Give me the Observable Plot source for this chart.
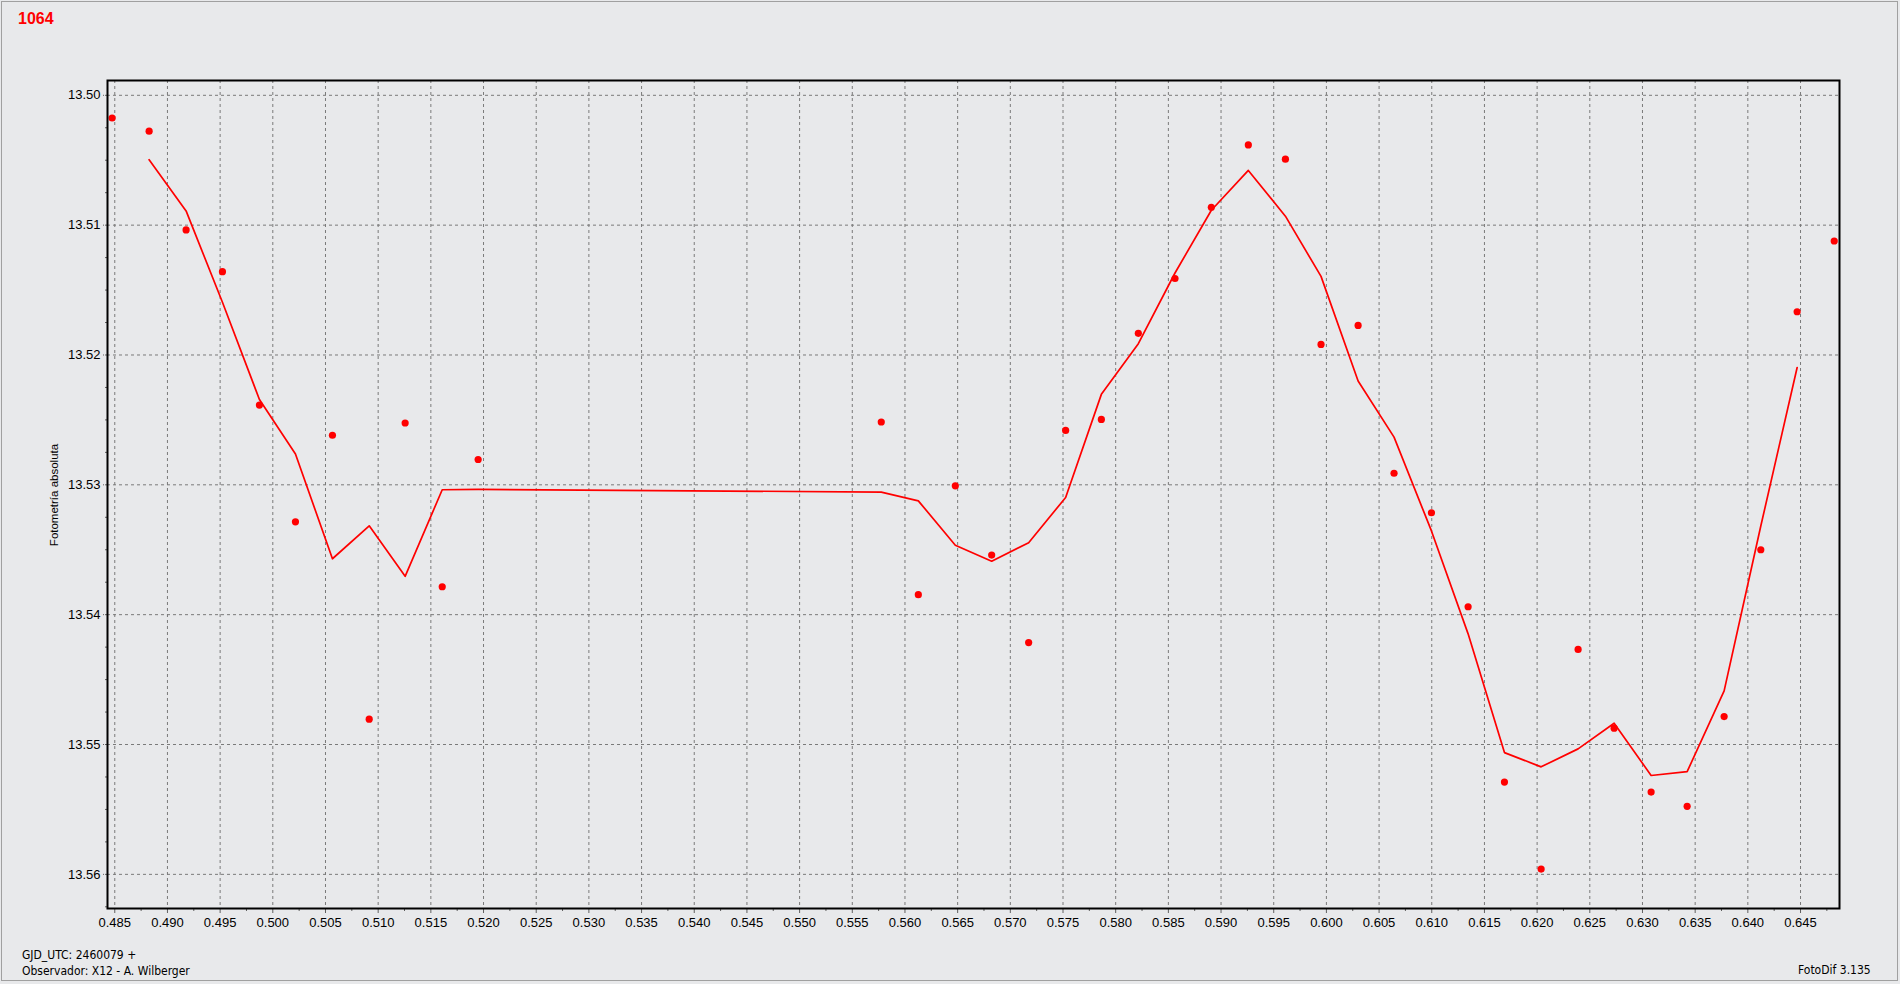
<!DOCTYPE html>
<html>
<head>
<meta charset="utf-8">
<script src="https://cdn.jsdelivr.net/npm/d3@7"></script>
<script src="https://cdn.jsdelivr.net/npm/@observablehq/plot@0.6"></script>
<style>
  html, body { margin: 0; padding: 0; background: #e8e9eb; }
  #page { position: relative; width: 1900px; height: 984px; background: #e8e9eb; overflow: hidden; }
  #border { position: absolute; left: 1px; top: 1px; width: 1895px; height: 978px; border: 1px solid #a0a0a0; box-sizing: content-box; pointer-events: none; }
  #chart { position: absolute; left: 0; top: 0; }
  .txt { position: absolute; white-space: nowrap; font-family: "Liberation Sans", Arial, sans-serif; color: #000; }
  #title { left: 18px; top: 10px; font-size: 16px; font-weight: bold; color: #ff0000; }
  #ylabel { left: 54px; top: 495px; font-size: 11.5px; transform: translate(-50%, -50%) rotate(-90deg); }
  #gjd { left: 22px; top: 948px; font-size: 12px; font-family: "DejaVu Sans Condensed", "Liberation Sans", sans-serif; }
  #obs { left: 22px; top: 964px; font-size: 12px; font-family: "DejaVu Sans Condensed", "Liberation Sans", sans-serif; }
  #foto { left: 1798px; top: 963px; font-size: 12px; font-family: "DejaVu Sans Condensed", "Liberation Sans", sans-serif; }
</style>
</head>
<body>
<div id="page">
  <div id="chart"></div>
  <div id="border"></div>
  <div class="txt" id="title">1064</div>
  <div class="txt" id="ylabel">Fotometría absoluta</div>
  <div class="txt" id="gjd">GJD_UTC: 2460079 +</div>
  <div class="txt" id="obs">Observador: X12 - A. Wilberger</div>
  <div class="txt" id="foto">FotoDif 3.135</div>
</div>
<script>
// Observation times (GJD_UTC - 2460079)
const jd = [
  0.48475, 0.48826, 0.49177, 0.49522, 0.49873, 0.50215, 0.50566, 0.50915, 0.51256, 0.51608, 0.51949,
  0.55775, 0.56127, 0.56478, 0.56823, 0.57174, 0.57525, 0.57864, 0.58215, 0.58563, 0.58908, 0.59259,
  0.59611, 0.59949, 0.60301, 0.60642, 0.60997, 0.61345, 0.61690, 0.62038, 0.62389, 0.62731, 0.63082,
  0.63424, 0.63775, 0.64123, 0.64468, 0.64820
];
// Absolute photometry (magnitude)
const mag = [
  13.50175, 13.50276, 13.51037, 13.51358, 13.52386, 13.53285, 13.52618, 13.54805, 13.52524, 13.53785, 13.52805,
  13.52516, 13.53846, 13.53008, 13.53541, 13.54215, 13.52581, 13.52496, 13.51833, 13.51411, 13.50862, 13.50382,
  13.50492, 13.51919, 13.51772, 13.52911, 13.53215, 13.53939, 13.55289, 13.55959, 13.54268, 13.54874, 13.55366,
  13.55476, 13.54785, 13.53500, 13.51667, 13.51122
];
// Axis ticks
const xTicks = [0.485, 0.490, 0.495, 0.500, 0.505, 0.510, 0.515, 0.520, 0.525, 0.530, 0.535, 0.540, 0.545,
  0.550, 0.555, 0.560, 0.565, 0.570, 0.575, 0.580, 0.585, 0.590, 0.595, 0.600, 0.605, 0.610, 0.615, 0.620,
  0.625, 0.630, 0.635, 0.640, 0.645];
const xMinorTicks = [0.4875, 0.4925, 0.4975, 0.5025, 0.5075, 0.5125, 0.5175, 0.5225, 0.5275, 0.5325, 0.5375,
  0.5425, 0.5475, 0.5525, 0.5575, 0.5625, 0.5675, 0.5725, 0.5775, 0.5825, 0.5875, 0.5925, 0.5975, 0.6025,
  0.6075, 0.6125, 0.6175, 0.6225, 0.6275, 0.6325, 0.6375, 0.6425, 0.6475];
const yTicks = [13.50, 13.51, 13.52, 13.53, 13.54, 13.55, 13.56];
const yMinorTicks = [13.5025, 13.505, 13.5075, 13.5125, 13.515, 13.5175, 13.5225, 13.525, 13.5275,
  13.5325, 13.535, 13.5375, 13.5425, 13.545, 13.5475, 13.5525, 13.555, 13.5575, 13.5625];

const data = jd.map((x, i) => ({x, y: mag[i]}));

const font = '"Liberation Sans", Arial, sans-serif';
const gridStyle = {stroke: "#7a7a7a", strokeOpacity: 1, strokeWidth: 1, strokeDasharray: "3,3"};

const chart = Plot.plot({
  width: 1900,
  height: 984,
  marginLeft: 107,
  marginRight: 61,
  marginTop: 80,
  marginBottom: 76,
  style: {background: "transparent", fontFamily: font, fontSize: "13px", color: "#000", overflow: "visible"},
  x: {domain: [0.48431, 0.64870], axis: null},
  y: {domain: [13.49886, 13.56263], reverse: true, axis: null},
  marks: [
    Plot.gridX(xTicks, gridStyle),
    Plot.gridY(yTicks, gridStyle),
    Plot.axisY(yTicks, {tickSize: 4, tickPadding: 3, tickFormat: d3.format(".2f"), stroke: "#606060", strokeDasharray: "2,1", fontSize: 13, fill: "#000", label: null}),
    Plot.axisY(yMinorTicks, {tickSize: 2, text: null, stroke: "#606060", label: null}),
    Plot.axisX(xTicks, {tickSize: 5, tickPadding: 4, tickFormat: d3.format(".3f"), stroke: "#606060", fontSize: 13, fill: "#000", label: null}),
    Plot.axisX(xMinorTicks, {tickSize: 3, text: null, stroke: "#606060", label: null}),
    Plot.lineY(data, Plot.windowY({k: 3, anchor: "middle", strict: true}, {x: "x", y: "y", stroke: "#ff0000", strokeWidth: 1.7})),
    Plot.dot(data, {x: "x", y: "y", r: 3.6, fill: "#ff0000", stroke: null}),
    Plot.frame({stroke: "#000", strokeWidth: 2})
  ]
});
document.getElementById("chart").appendChild(chart);
</script>
</body>
</html>
